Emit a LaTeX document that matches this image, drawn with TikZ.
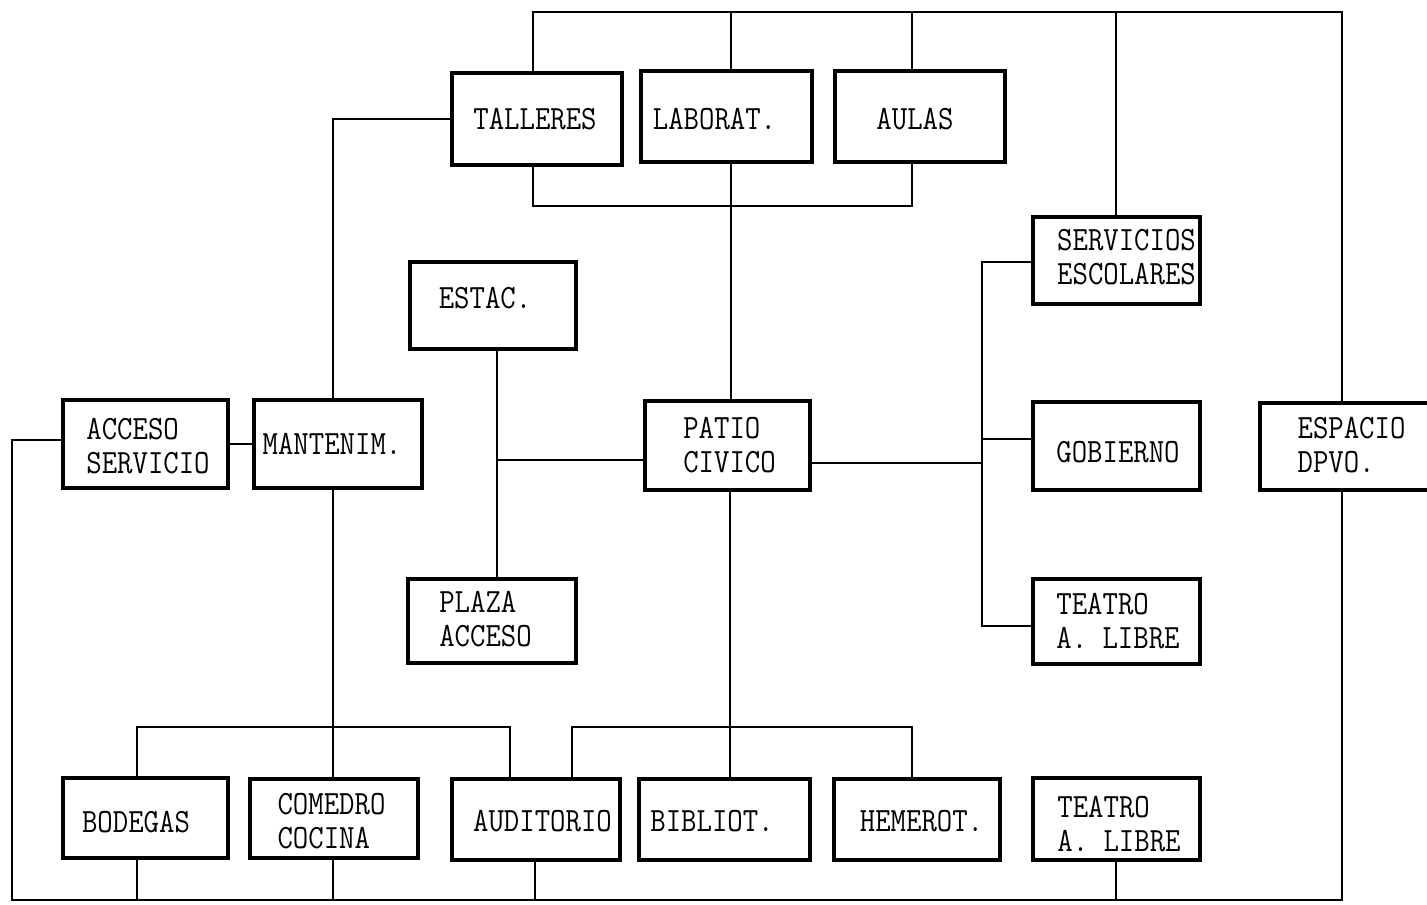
\documentclass[tikz,border=0pt]{standalone}
\usetikzlibrary{calc}
\newdimen\pxu \pxu=0.5pt
% dx (px), dy (px, up), baseline correction, text
\newcommand\boxtext[4]{\makebox[0pt]{\hspace*{#1\pxu}\raisebox{\dimexpr #2\pxu-#3\relax}[0pt][0pt]{\scalebox{0.88}[1]{\fontsize{17}{17}\selectfont\ttfamily\begin{tabular}[t]{@{}l@{}}#4\end{tabular}}}\hspace*{-#1\pxu}}}
\newcommand\bx[6]{\node[box, minimum width={(#4-#2)*\pxu}, minimum height={(#5-#3)*\pxu}] (#1) at ({(#2+#4)/2},{(#3+#5)/2}) {#6};}
\begin{document}
\begin{tikzpicture}[x=0.5pt,y=-0.5pt,
  box/.style={draw, line width=1.6pt, inner sep=0pt, outer sep=0pt, fill=white},
  ln/.style={line width=1.1pt}]
\useasboundingbox[fill=white] (0,0) rectangle (1427,904);

% top group
\bx{tal}{452}{73}{622}{165}{\boxtext{-2}{0}{5.2pt}{TALLERES}}
\bx{lab}{641}{71}{812}{162}{\boxtext{-12}{-2.5}{5.2pt}{LABORAT.}}
\bx{aul}{835}{71}{1005}{162}{\boxtext{-5}{-2.5}{5.2pt}{AULAS}}
% right column
\bx{ser}{1033}{217}{1200}{304}{\boxtext{10}{3.5}{-3.3pt}{SERVICIOS\\ESCOLARES}}
\bx{gob}{1033}{402}{1200}{490}{\boxtext{1.5}{-6}{5.2pt}{GOBIERNO}}
\bx{tea}{1033}{579}{1200}{664}{\boxtext{1.5}{0}{-3.3pt}{TEATRO\\A. LIBRE}}
\bx{esp}{1260}{403}{1437}{490}{\boxtext{3}{1}{-3.3pt}{ESPACIO\\DPVO.}}
% middle
\bx{est}{410}{262}{576}{349}{\boxtext{-8}{7.5}{5.2pt}{ESTAC.}}
\bx{pla}{408}{579}{576}{663}{\boxtext{-6.5}{2}{-3.3pt}{PLAZA\\ACCESO}}
\bx{pat}{645}{401}{810}{490}{\boxtext{2}{0}{-3.3pt}{PATIO\\CIVICO}}
\bx{acc}{63}{400}{228}{488}{\boxtext{2.5}{-2}{-3.3pt}{ACCESO\\SERVICIO}}
\bx{man}{254}{400}{422}{488}{\boxtext{-6}{0}{5.2pt}{MANTENIM.}}
% bottom row
\bx{bod}{63}{778}{228}{858}{\boxtext{-9.5}{-4}{5.2pt}{BODEGAS}}
\bx{com}{250}{779}{418}{858}{\boxtext{-2.5}{-2.5}{-3.3pt}{COMEDRO\\COCINA}}
\bx{aud}{452}{779}{620}{860}{\boxtext{6.5}{-1.5}{5.2pt}{AUDITORIO}}
\bx{bib}{639}{779}{810}{860}{\boxtext{-12.5}{-1.5}{5.2pt}{BIBLIOT.}}
\bx{hem}{834}{779}{1000}{860}{\boxtext{4.5}{-1.5}{5.2pt}{HEMEROT.}}
\bx{teb}{1033}{778}{1200}{860}{\boxtext{2.5}{-5.5}{-3.3pt}{TEATRO\\A. LIBRE}}

% coordinates of bends and buses
\coordinate (ta) at (533,12);
\coordinate (tl) at (731,12);
\coordinate (tu) at (912,12);
\coordinate (ts) at (1116,12);
\coordinate (te) at (1342,12);
\coordinate (ma) at (533,206);
\coordinate (mu) at (912,206);
\coordinate (mt) at (333,119);
\coordinate (la) at (12,440);
\coordinate (lb) at (12,900);
\coordinate (rb) at (1342,900);
\coordinate (b1) at (137,900);
\coordinate (b2) at (333,900);
\coordinate (b3) at (535,900);
\coordinate (b4) at (1116,900);
\coordinate (bl) at (137,727);
\coordinate (cl) at (333,727);
\coordinate (br) at (510,727);
\coordinate (cl2) at (572,727);
\coordinate (pd) at (730,727);
\coordinate (cr) at (912,727);
\coordinate (ev) at (497,460);
\coordinate (rv) at (982,463);
\coordinate (r1) at (982,262);
\coordinate (r2) at (982,439);
\coordinate (r3) at (982,626);

% top bus
\draw[ln] (tal.north -| ta) -- (ta) -- (te) -- (esp.north -| te);
\draw[ln] (lab.north -| tl) -- (tl);
\draw[ln] (aul.north -| tu) -- (tu);
\draw[ln] (ser.north -| ts) -- (ts);
% bus under the top group
\draw[ln] (tal.south -| ma) -- (ma) -- (mu) -- (aul.south -| mu);
\draw[ln] (lab.south -| tl) -- (pat.north -| tl);
% talleres to mantenimiento
\draw[ln] (tal.west |- mt) -- (mt) -- (man.north -| mt);
\draw[ln] (acc.east) -- (man.west);
% outer loop
\draw[ln] (acc.west |- la) -- (la) -- (lb) -- (rb) -- (esp.south -| rb);
\draw[ln] (bod.south -| b1) -- (b1);
\draw[ln] (com.south -| b2) -- (b2);
\draw[ln] (aud.south -| b3) -- (b3);
\draw[ln] (teb.south -| b4) -- (b4);
% mantenimiento down to the service group
\draw[ln] (man.south -| cl) -- (cl) -- (com.north -| cl);
\draw[ln] (bod.north -| bl) -- (bl) -- (br) -- (aud.north -| br);
% patio down to the cultural group
\draw[ln] (pat.south -| pd) -- (bib.north -| pd);
\draw[ln] (aud.north -| cl2) -- (cl2) -- (cr) -- (hem.north -| cr);
% estacionamiento / plaza
\draw[ln] (est.south -| ev) -- (pla.north -| ev);
\draw[ln] (ev) -- (pat.west |- ev);
% patio to the right column
\draw[ln] (pat.east |- rv) -- (rv);
\draw[ln] (ser.west |- r1) -- (r1) -- (r3) -- (tea.west |- r3);
\draw[ln] (r2) -- (gob.west |- r2);
\end{tikzpicture}
\end{document}
